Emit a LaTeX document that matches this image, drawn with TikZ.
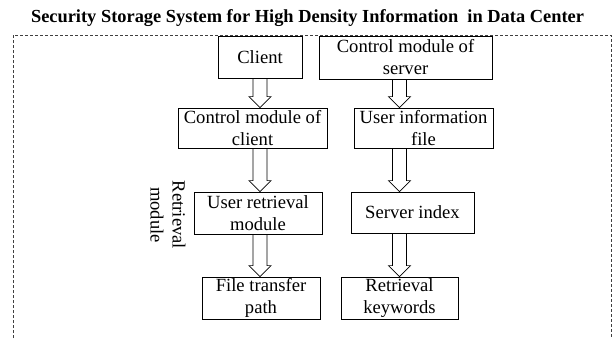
\documentclass[tikz,border=0pt]{standalone}
\usepackage{fontspec}
\setmainfont{Liberation Serif}
\usepackage{tikz}
\usetikzlibrary{positioning,calc}

\newcommand{\boxfont}{\fontsize{18.6}{22}\selectfont}

\begin{document}
\begin{tikzpicture}[x=1pt, y=-1pt,
  box/.style={draw, line width=0.8pt, align=center, inner sep=0pt, font=\boxfont},
  frame/.style={draw, black!75, line width=0.8pt, dash pattern=on 3pt off 2pt},
  hollow/.style={draw, line width=0.7pt,
    to path={let \p1=(\tikztostart), \p2=(\tikztotarget) in
      (\x1-7pt,\y1) -- (\x1-7pt,\y2+11pt) -- (\x1-11pt,\y2+11pt) -- (\x1,\y2)
      -- (\x1+11pt,\y2+11pt) -- (\x1+7pt,\y2+11pt) -- (\x1+7pt,\y1)}}]
  \useasboundingbox (0,0) rectangle (612,338);

  % title and frame
  \node[font=\bfseries\fontsize{18.4}{22}\selectfont, anchor=base] (title) at (307.5,22)
    {Security Storage System for High Density Information\ \ in Data Center};
  \draw[frame] (13,338) -- (13,35) -- (611,35) -- (611,338);

  % client side
  \node[box, minimum width=84pt, minimum height=42pt] (client) at (260,57) {Client};
  \node[box, minimum width=149pt, minimum height=40pt] (ctrlclient) at (252.5,128) {Control module of\\client};
  \node[box, minimum width=128pt, minimum height=42pt] (retrieval) at (258,213) {User retrieval\\module};
  \node[box, minimum width=118pt, minimum height=42pt] (filepath) at (261,298) {File transfer\\path};
  \node[font=\boxfont, rotate=-90, align=center] (retlabel) at (168,215) {Retrieval\\module};

  % server side
  \node[box, minimum width=173pt, minimum height=43pt] (ctrlserver) at (405.5,57.5) {Control module of\\server};
  \node[box, minimum width=139pt, minimum height=40pt] (userinfo) at (423.5,128) {User information\\file};
  \node[box, minimum width=123pt, minimum height=41pt] (index) at (412.5,212.5) {Server index};
  \node[box, minimum width=117pt, minimum height=42pt] (keywords) at (399.5,298) {Retrieval\\keywords};

  % hollow arrows
  \draw[hollow] (client.south) to (client.south |- ctrlclient.north);
  \draw[hollow] (ctrlclient.south -| client) to (retrieval.north -| client);
  \draw[hollow] (retrieval.south -| client) to (filepath.north -| client);
  \draw[hollow] (ctrlserver.south -| keywords) to (userinfo.north -| keywords);
  \draw[hollow] (userinfo.south -| keywords) to (index.north -| keywords);
  \draw[hollow] (index.south -| keywords) to (keywords.north);
\end{tikzpicture}
\end{document}
